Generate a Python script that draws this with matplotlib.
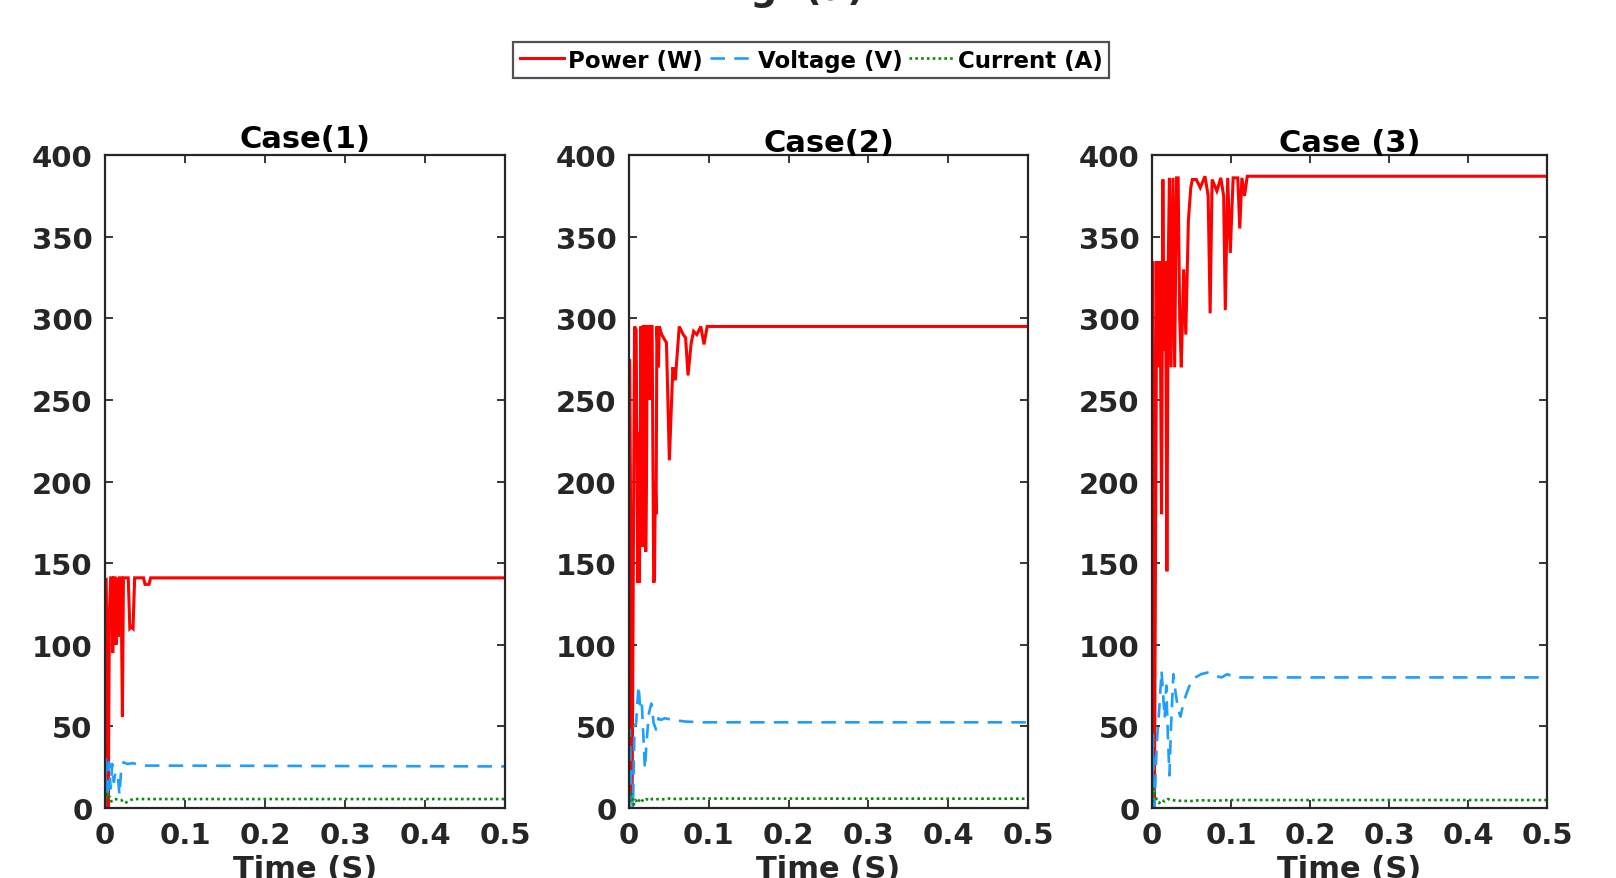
import matplotlib
matplotlib.use("Agg")
import matplotlib.pyplot as plt
from matplotlib.lines import Line2D

# Case (1)
t_p1 = [0, 0.001, 0.002, 0.004, 0.0055, 0.007, 0.0085, 0.0096, 0.011, 0.0125, 0.0137, 0.015, 0.0165, 0.018,
        0.02, 0.0217, 0.023, 0.026, 0.029, 0.031, 0.033, 0.035, 0.037, 0.048, 0.05, 0.055, 0.057, 0.5]
p1 = [0, 141, 100, 0, 120, 141, 141, 95, 141, 141, 100, 141, 105, 141,
      141, 56, 141, 141, 141, 110, 111, 110, 141, 141, 137, 137, 141, 141]
t_v1 = [0, 0.001, 0.003, 0.005, 0.007, 0.009, 0.011, 0.013, 0.016, 0.018, 0.02, 0.023, 0.028, 0.035, 0.045, 0.055, 0.5]
v1 = [0, 30, 5, 28, 12, 27, 16, 22, 20, 8, 22, 28, 27, 27.5, 26, 26, 25.5]
t_i1 = [0, 0.002, 0.004, 0.006, 0.008, 0.012, 0.02, 0.025, 0.03, 0.035, 0.5]
i1 = [0, 10, 6, 7, 4, 5.5, 5, 3, 4.5, 5.5, 5.5]

# Case (2)
t_p2 = [0, 0.001, 0.004, 0.007, 0.009, 0.011, 0.012, 0.013, 0.014, 0.015, 0.017, 0.018, 0.02, 0.021, 0.022,
        0.023, 0.025, 0.026, 0.027, 0.029, 0.031, 0.032, 0.033, 0.034, 0.035, 0.037, 0.038, 0.041, 0.047,
        0.0506, 0.055, 0.058, 0.060, 0.063, 0.068, 0.071, 0.074, 0.078, 0.081, 0.085, 0.09, 0.094, 0.098, 0.5]
p2 = [0, 275, 5, 295, 293, 138, 230, 138, 190, 295, 160, 295, 295, 157, 200,
      295, 295, 250, 295, 295, 138, 140, 200, 180, 295, 270, 295, 290, 285,
      213, 270, 262, 275, 295, 290, 288, 265, 285, 292, 290, 295, 284, 295, 295]
t_v2 = [0, 0.001, 0.003, 0.005, 0.007, 0.009, 0.012, 0.014, 0.016, 0.018, 0.02, 0.022, 0.025, 0.028,
        0.031, 0.034, 0.037, 0.04, 0.045, 0.055, 0.07, 0.09, 0.5]
v2 = [0, 48, 10, 0, 50, 52, 75, 62, 65, 45, 24, 40, 58, 64, 52, 48, 55, 54, 55, 54, 53, 52.5, 52.5]
t_i2 = [0, 0.002, 0.004, 0.006, 0.008, 0.011, 0.014, 0.018, 0.022, 0.026, 0.03, 0.04, 0.05, 0.06, 0.08, 0.5]
i2 = [0, 10, 7, 2, 5, 3, 6, 4, 5.5, 4.5, 5.8, 5.2, 5.8, 5.5, 5.8, 5.7]

# Case (3)
t_p3 = [0, 0.001, 0.003, 0.006, 0.0085, 0.01, 0.012, 0.0137, 0.015, 0.017, 0.0188, 0.0205, 0.022, 0.024,
        0.0265, 0.0286, 0.031, 0.033, 0.035, 0.037, 0.04, 0.0427, 0.046, 0.049, 0.051, 0.056, 0.061, 0.067,
        0.071, 0.0735, 0.076, 0.082, 0.087, 0.0906, 0.0927, 0.0957, 0.099, 0.1026, 0.1085, 0.111, 0.1137,
        0.117, 0.1205, 0.5]
p3 = [0, 335, 0, 335, 270, 335, 180, 385, 280, 335, 145, 335, 386, 270,
      386, 270, 386, 386, 300, 270, 330, 290, 360, 380, 385, 385, 380, 387,
      375, 303, 385, 378, 386, 375, 305, 386, 340, 386, 386, 355, 386,
      375, 387, 387]
t_v3 = [0, 0.001, 0.003, 0.006, 0.009, 0.012, 0.014, 0.016, 0.018, 0.02, 0.022, 0.024, 0.027, 0.03,
        0.033, 0.036, 0.04, 0.045, 0.05, 0.055, 0.062, 0.07, 0.08, 0.088, 0.095, 0.105, 0.5]
v3 = [0, 45, 0, 40, 60, 84, 70, 55, 75, 45, 20, 50, 82, 70, 60, 56, 65, 72, 78, 80, 82, 83, 81, 80, 82, 80, 80]
t_i3 = [0, 0.002, 0.004, 0.006, 0.009, 0.012, 0.016, 0.02, 0.03, 0.05, 0.06, 0.08, 0.1, 0.5]
i3 = [0, 12, 8, 5, 3, 5, 4, 5.5, 4.5, 4.3, 4.8, 4.5, 4.9, 4.9]

titles = ["Case(1)", "Case(2)", "Case (3)"]
x_ticks = [0, 0.1, 0.2, 0.3, 0.4, 0.5]
x_labels = ["0", "0.1", "0.2", "0.3", "0.4", "0.5"]
y_ticks = [0, 50, 100, 150, 200, 250, 300, 350, 400]

RED = "#FF0000"
BLUE = "#1E9EFF"
GREEN = "#0A8A0A"
DARK = "#262626"

plt.rcParams["font.family"] = "DejaVu Sans"
plt.rcParams["font.weight"] = "bold"

fig = plt.figure(figsize=(16.16, 8.79), dpi=100)

lefts = [0.065, 0.3892, 0.7129]
widths = [0.2475, 0.247, 0.2445]
title_pads = [6, 3, 3]
cases = [
    (t_p1, p1, t_v1, v1, t_i1, i1),
    (t_p2, p2, t_v2, v2, t_i2, i2),
    (t_p3, p3, t_v3, v3, t_i3, i3),
]

for k in range(3):
    ax = fig.add_axes([lefts[k], 0.0796, widths[k], 0.7429])
    tp, pp, tv, vv, ti, ii = cases[k]
    ax.plot(tp, pp, color=RED, lw=2.2, solid_joinstyle="miter")
    ax.plot(tv, vv, color=BLUE, lw=1.9, dashes=(5.5, 3.5))
    ax.plot(ti, ii, color=GREEN, lw=1.9, linestyle=(0, (1, 1.2)))
    ax.set_xlim(0, 0.5)
    ax.set_ylim(0, 400)
    ax.set_xticks(x_ticks)
    ax.set_xticklabels(x_labels)
    ax.set_yticks(y_ticks)
    ax.tick_params(direction="in", top=True, right=True, length=6, width=1.3,
                   colors=DARK, labelsize=21, pad=9)
    for lab in ax.get_xticklabels() + ax.get_yticklabels():
        lab.set_fontweight("bold")
    for s in ax.spines.values():
        s.set_color(DARK)
        s.set_linewidth(1.6)
    ax.set_title(titles[k], fontsize=22, fontweight="bold", pad=title_pads[k])
    ax.set_xlabel("Time (S)", fontsize=22, fontweight="bold", color=DARK, labelpad=4)

# overall title, mostly cut off at the top edge
fig.text(0.488, 0.9995, "Fig. (a)", fontsize=27, fontweight="bold", color=DARK,
         ha="center", va="baseline")

handles = [
    Line2D([], [], color=RED, lw=2.2),
    Line2D([], [], color=BLUE, lw=1.9, dashes=(5.5, 3.5)),
    Line2D([], [], color=GREEN, lw=1.9, linestyle=(0, (1, 1.2))),
]
leg = fig.legend(handles, ["Power (W)", "Voltage (V)", "Current (A)"], loc="center",
                 bbox_to_anchor=(0.502, 0.9306), ncol=3, frameon=True, fancybox=False,
                 prop={"size": 16.5, "weight": "bold"}, handlelength=1.9, handletextpad=0.2,
                 columnspacing=0.3, borderpad=0.3, borderaxespad=0)
leg.get_frame().set_edgecolor(DARK)
leg.get_frame().set_linewidth(1.6)

fig.savefig("out.png", dpi=100)
